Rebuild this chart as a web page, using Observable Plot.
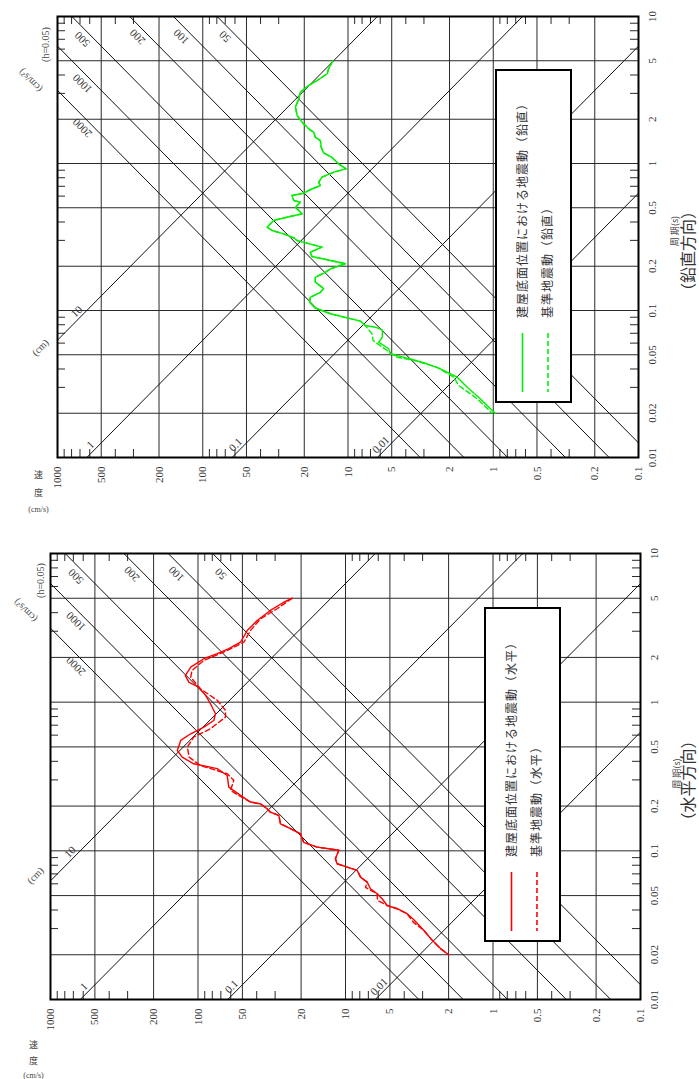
<!DOCTYPE html>
<html>
<head>
<meta charset="utf-8">
<script src="https://cdn.jsdelivr.net/npm/d3@7"></script>
<script src="https://cdn.jsdelivr.net/npm/@observablehq/plot@0.6"></script>
<style>
html,body{margin:0;padding:0;background:#fff;}
body{width:699px;height:1079px;position:relative;overflow:hidden;}
#top,#bottom{position:absolute;left:0;}
#top{top:0;}
#bottom{top:540px;}
</style>
</head>
<body>
<div id="top"></div>
<div id="bottom"></div>
<script>
// ---- axis values ----
const velocityTicks = [1000, 500, 200, 100, 50, 20, 10, 5, 2, 1, 0.5, 0.2, 0.1];
const velocityTickLabels = ["1000", "500", "200", "100", "50", "20", "10", "5", "2", "1", "0.5", "0.2", "0.1"];
const periodTicks = [0.01, 0.02, 0.05, 0.1, 0.2, 0.5, 1, 2, 5, 10];
const periodTickLabels = ["0.01", "0.02", "0.05", "0.1", "0.2", "0.5", "1", "2", "5", "10"];
const minorMultipliers = [3, 4, 6, 7, 8, 9];
const velocityDecades = [0.1, 1, 10, 100];
const periodDecades = [0.01, 0.1, 1];

// ---- tripartite guide lines ----
const displacementValues = [0.01, 0.1, 1, 10];          // cm
const displacementLabels = ["0.01", "0.1", "1", "10"];
const accelerationValues = [50, 100, 200, 500, 1000, 2000]; // cm/s^2
const accelerationLabels = ["50", "100", "200", "500", "1000", "2000"];

// ---- vertical (鉛直) spectra ----
const vertPeriodSolid = [5.0, 4.41, 4.08, 3.67, 3.34, 3.05, 2.76, 2.42, 2.12, 1.91, 1.72, 1.63, 1.51, 1.43, 1.29, 1.18, 1.10, 0.995, 0.92, 0.873, 0.807, 0.746, 0.708, 0.663, 0.628, 0.606, 0.56, 0.545, 0.504, 0.455, 0.431, 0.41, 0.369, 0.35, 0.332, 0.312, 0.299, 0.27, 0.249, 0.233, 0.219, 0.208, 0.192, 0.182, 0.168, 0.156, 0.141, 0.133, 0.123, 0.114, 0.104, 0.095, 0.089, 0.0846, 0.079, 0.077, 0.0739, 0.0658, 0.0609, 0.0549, 0.0508, 0.0487, 0.0469, 0.0434, 0.0401, 0.0371, 0.0352, 0.0301, 0.0251, 0.02];
const vertVelSolid = [12.7, 13.6, 13.9, 16.3, 19.1, 21.3, 21.8, 23.0, 22.4, 20.7, 18.6, 17.2, 16.8, 15.5, 15.3, 14.7, 12.9, 11.6, 10.3, 12.5, 15.1, 15.9, 15.5, 18.2, 20.2, 24.3, 23.6, 21.3, 23.0, 20.7, 26.3, 32.5, 36.1, 33.3, 27.7, 23.6, 22.4, 15.1, 18.2, 17.7, 13.2, 10.4, 13.2, 14.3, 16.8, 16.8, 14.7, 15.5, 18.2, 18.4, 16.8, 13.2, 10.1, 8.2, 7.6, 6.5, 5.8, 5.8, 6.15, 5.25, 5.1, 4.36, 3.72, 2.86, 2.31, 1.97, 1.77, 1.51, 1.23, 0.97];
const vertPeriodDashed = [5.0, 4.41, 4.08, 3.67, 3.34, 3.05, 2.76, 2.42, 2.12, 1.91, 1.72, 1.63, 1.51, 1.43, 1.29, 1.18, 1.10, 0.995, 0.92, 0.873, 0.807, 0.746, 0.708, 0.663, 0.628, 0.606, 0.56, 0.545, 0.504, 0.455, 0.431, 0.41, 0.369, 0.35, 0.332, 0.312, 0.299, 0.27, 0.249, 0.233, 0.219, 0.208, 0.192, 0.182, 0.168, 0.156, 0.141, 0.133, 0.123, 0.114, 0.104, 0.095, 0.089, 0.0846, 0.079, 0.0694, 0.0625, 0.0534, 0.0512, 0.0481, 0.0452, 0.0411, 0.0352, 0.0309, 0.0251, 0.02];
const vertVelDashed = [12.7, 13.6, 13.9, 16.3, 19.1, 21.3, 21.8, 23.0, 22.4, 20.7, 18.6, 17.2, 16.8, 15.5, 15.3, 14.7, 12.9, 11.6, 10.3, 12.5, 15.1, 15.9, 15.5, 18.2, 20.2, 24.3, 23.6, 21.3, 23.0, 20.7, 26.3, 32.5, 36.1, 33.3, 27.7, 23.6, 22.4, 15.1, 18.2, 17.7, 13.2, 10.4, 13.2, 14.3, 16.8, 16.8, 14.7, 15.5, 18.2, 18.4, 16.8, 13.2, 10.1, 8.2, 7.6, 6.83, 6.72, 5.38, 5.11, 4.59, 3.34, 2.44, 1.87, 1.73, 1.29, 1.02];

// ---- horizontal (水平) spectra ----
const horPeriodSolid = [5.0, 4.7, 4.14, 3.54, 3.03, 2.53, 2.29, 2.12, 1.96, 1.72, 1.51, 1.36, 1.26, 1.11, 0.976, 0.836, 0.753, 0.679, 0.613, 0.553, 0.473, 0.427, 0.385, 0.357, 0.321, 0.268, 0.236, 0.213, 0.207, 0.192, 0.182, 0.173, 0.152, 0.141, 0.130, 0.114, 0.106, 0.101, 0.0885, 0.0819, 0.0777, 0.0738, 0.0665, 0.0616, 0.0556, 0.0514, 0.0476, 0.0429, 0.0408, 0.0378, 0.0344, 0.0292, 0.025, 0.022, 0.02];
const horVelSolid = [23.0, 26.2, 32.3, 39.7, 46.4, 51.5, 61.8, 74.1, 91.3, 112, 122, 115, 98.8, 88.9, 82.3, 76.1, 78.1, 91.3, 112, 131, 138, 128, 107, 74.1, 63.4, 61.8, 51.5, 44.1, 37.7, 34.0, 32.3, 28.3, 27.6, 23.6, 20.2, 19.2, 15.6, 11.1, 11.7, 11.4, 9.74, 8.33, 7.91, 7.13, 6.77, 6.10, 5.64, 5.22, 4.46, 3.82, 3.44, 2.95, 2.58, 2.27, 2.0];
const horPeriodDashed = [5.0, 4.25, 3.64, 3.03, 2.53, 2.17, 1.91, 1.63, 1.47, 1.23, 1.03, 0.88, 0.793, 0.663, 0.582, 0.498, 0.427, 0.375, 0.33, 0.298, 0.255, 0.232, 0.213, 0.207, 0.192, 0.182, 0.173, 0.152, 0.141, 0.130, 0.114, 0.106, 0.101, 0.0885, 0.0819, 0.0777, 0.0738, 0.0665, 0.0616, 0.0567, 0.0514, 0.0464, 0.0429, 0.0408, 0.0378, 0.033, 0.0292, 0.025, 0.022, 0.02];
const horVelDashed = [23.0, 29.1, 37.7, 44.1, 48.9, 66.9, 91.3, 110, 112, 96.2, 74.1, 65.1, 65.1, 82.3, 107, 118, 115, 96.2, 63.4, 57.2, 60.2, 51.5, 44.1, 37.7, 34.0, 32.3, 28.3, 27.6, 23.6, 20.2, 19.2, 15.6, 11.1, 11.7, 11.4, 9.74, 8.33, 7.91, 7.13, 7.32, 6.10, 6.07, 5.22, 4.46, 3.82, 3.46, 2.95, 2.58, 2.27, 2.0];

const vertLegend = ["建屋底面位置における地震動（鉛直）", "基準地震動（鉛直）"];
const horLegend = ["建屋底面位置における地震動（水平）", "基準地震動（水平）"];

// ---- helpers ----
const TWO_PI = 2 * Math.PI;
const T_MIN = 0.01, T_MAX = 10, V_MIN = 0.1, V_MAX = 1000;
const serif = "'Liberation Serif', 'Times New Roman', serif";
const cjk = "'Noto Sans CJK JP', sans-serif";

function minorValues(decades) {
  return decades.flatMap(d => minorMultipliers.map(m => +(d * m).toPrecision(3)));
}
function accSegments() {
  return accelerationValues.map(a => {
    const t1 = Math.max(T_MIN, V_MIN * TWO_PI / a), t2 = Math.min(T_MAX, V_MAX * TWO_PI / a);
    return {T1: t1, v1: a * t1 / TWO_PI, T2: t2, v2: a * t2 / TWO_PI};
  });
}
function dispSegments() {
  return displacementValues.map(d => {
    const t1 = Math.max(T_MIN, TWO_PI * d / V_MAX), t2 = Math.min(T_MAX, TWO_PI * d / V_MIN);
    return {T1: t1, v1: TWO_PI * d / t1, T2: t2, v2: TWO_PI * d / t2};
  });
}
function accLabelPoints() {
  return accelerationValues.map((a, i) => {
    const T = Math.min(7.3, 3500 / a);
    return {T, v: a * T / TWO_PI, label: accelerationLabels[i]};
  });
}
function dispLabelPoints() {
  return displacementValues.map((d, i) => {
    const T = Math.max(0.0122, TWO_PI * d / 640);
    return {T, v: TWO_PI * d / T, label: displacementLabels[i]};
  });
}
function zipSeries(P, V) { return P.map((T, i) => ({T, v: V[i]})); }

function makePanel(cfg) {
  const {width, height, m, solid, dashed, color, legend, legendLabels, dirLabel, periodTitleDy, dirDx, dirDy, cmPos, cmsPos, hPos, velTitle} = cfg;
  const plotW = width - m.left - m.right, plotH = height - m.top - m.bottom;
  const gridColor = "#2a2a2a";
  const C = {textAnchor: "middle", lineAnchor: "middle"};
  const chart = Plot.plot({
    width, height,
    marginLeft: m.left, marginRight: m.right, marginTop: m.top, marginBottom: m.bottom,
    x: {type: "log", domain: [V_MAX, V_MIN], axis: null},
    y: {type: "log", domain: [T_MIN, T_MAX], axis: null},
    style: {fontFamily: serif, fontSize: "11px", color: "#333", background: "#fff"},
    marks: [
      Plot.ruleX(velocityTicks, {stroke: gridColor, strokeWidth: 1}),
      Plot.ruleY(periodTicks, {stroke: gridColor, strokeWidth: 1}),
      Plot.ruleX(minorValues(velocityDecades), {stroke: gridColor, insetTop: plotH - 8}),
      Plot.ruleX(minorValues(velocityDecades), {stroke: gridColor, insetBottom: plotH - 8}),
      Plot.ruleY(minorValues(periodDecades), {stroke: gridColor, insetLeft: plotW - 8}),
      Plot.ruleY(minorValues(periodDecades), {stroke: gridColor, insetRight: plotW - 8}),
      Plot.link(accSegments(), {x1: "v1", y1: "T1", x2: "v2", y2: "T2", stroke: "#111", strokeWidth: 1}),
      Plot.link(dispSegments(), {x1: "v1", y1: "T1", x2: "v2", y2: "T2", stroke: "#111", strokeWidth: 1}),
      Plot.frame({stroke: "#000", strokeWidth: 2}),
      // tick labels
      Plot.text(velocityTicks, {x: d => d, text: (d, i) => velocityTickLabels[i], frameAnchor: "bottom", dy: 9, rotate: -90, textAnchor: "end", lineAnchor: "middle", fill: "#333", fontSize: 11}),
      Plot.text(periodTicks, {y: d => d, text: (d, i) => periodTickLabels[i], frameAnchor: "right", dx: 14, rotate: -90, ...C, fill: "#333", fontSize: 11}),
      // guide line labels
      Plot.text(accLabelPoints(), {x: "v", y: "T", text: "label", dx: -12, rotate: -135, fill: "#333", fontSize: 11, ...C}),
      Plot.text(dispLabelPoints(), {x: "v", y: "T", text: "label", dx: -9, rotate: -45, fill: "#333", fontSize: 11, ...C}),
      Plot.text(["(cm)"], {frameAnchor: "top-left", dx: cmPos[0], dy: cmPos[1], rotate: -45, fill: "#444", fontSize: 10, ...C}),
      Plot.text(["(cm/s²)"], {frameAnchor: "top-left", dx: cmsPos[0], dy: cmsPos[1], rotate: -135, fill: "#444", fontSize: 10, ...C}),
      Plot.text(["(h=0.05)"], {frameAnchor: "top-left", dx: hPos[0], dy: hPos[1], rotate: -90, fill: "#444", fontSize: 10, ...C}),
      // axis titles
      Plot.text(["周 期(s)"], {frameAnchor: "right", dx: 37, dy: periodTitleDy, rotate: -90, fontFamily: cjk, fontSize: 9, fill: "#444", ...C}),
      Plot.text([dirLabel], {frameAnchor: "right", dx: dirDx, dy: dirDy, rotate: -90, fontFamily: cjk, fontSize: 16, fill: "#333", ...C}),
      Plot.text(["速"], {frameAnchor: "bottom-left", dx: velTitle[0], dy: velTitle[1], fontFamily: cjk, fontSize: 9, fill: "#444", ...C}),
      Plot.text(["度"], {frameAnchor: "bottom-left", dx: velTitle[0], dy: velTitle[1] + velTitle[2], fontFamily: cjk, fontSize: 9, fill: "#444", ...C}),
      Plot.text(["(cm/s)"], {frameAnchor: "bottom-left", dx: velTitle[0], dy: velTitle[1] + 2 * velTitle[2] - 2, fontSize: 8, fill: "#444", ...C}),
      // spectra
      Plot.line(dashed, {x: "v", y: "T", stroke: color, strokeWidth: 1.4, strokeDasharray: "5,3"}),
      Plot.line(solid, {x: "v", y: "T", stroke: color, strokeWidth: 1.4})
    ]
  });
  // legend box
  const svg = d3.select(chart.tagName.toLowerCase() === "svg" ? chart : chart.querySelector("svg"));
  const g = svg.append("g").attr("text-anchor", "start");
  g.append("rect").attr("x", legend.x).attr("y", legend.y).attr("width", legend.w).attr("height", legend.h)
    .attr("fill", "#fff").attr("stroke", "#000").attr("stroke-width", 2);
  const cols = [legend.x + 26.5, legend.x + 52];
  cols.forEach((cx, i) => {
    g.append("line").attr("x1", cx).attr("x2", cx)
      .attr("y1", legend.y + legend.h - 69).attr("y2", legend.y + legend.h - 10)
      .attr("stroke", color).attr("stroke-width", 1.6)
      .attr("stroke-dasharray", i ? "5,3" : null);
    g.append("text").attr("transform", `translate(${cx},${legend.y + legend.h - 84}) rotate(-90)`)
      .attr("text-anchor", "start").attr("dy", "0.36em")
      .attr("font-family", cjk).attr("font-size", 12).attr("letter-spacing", 1)
      .attr("fill", "#333")
      .text(legendLabels[i]);
  });
  return chart;
}

document.getElementById("top").appendChild(makePanel({
  width: 699, height: 540,
  m: {left: 57, right: 61, top: 16, bottom: 83},
  solid: zipSeries(vertPeriodSolid, vertVelSolid),
  dashed: zipSeries(vertPeriodDashed, vertVelDashed),
  color: "#00f000",
  legend: {x: 496, y: 70, w: 75, h: 332},
  legendLabels: vertLegend,
  dirLabel: "（鉛直方向）",
  periodTitleDy: -6, dirDx: 50, dirDy: 14,
  cmPos: [-17, 331], cmsPos: [-27, 64], hPos: [-12, 28],
  velTitle: [-19, 18, 18]
}));

document.getElementById("bottom").appendChild(makePanel({
  width: 699, height: 539,
  m: {left: 50, right: 59, top: 13, bottom: 80},
  solid: zipSeries(horPeriodSolid, horVelSolid),
  dashed: zipSeries(horPeriodDashed, horVelDashed),
  color: "#ff0000",
  legend: {x: 485, y: 68, w: 75, h: 333},
  legendLabels: horLegend,
  dirLabel: "（水平方向）",
  periodTitleDy: -3, dirDx: 48, dirDy: 4,
  cmPos: [-15, 322], cmsPos: [-25, 57], hPos: [-10, 27],
  velTitle: [-17, 46, 16]
}));
</script>
</body>
</html>
